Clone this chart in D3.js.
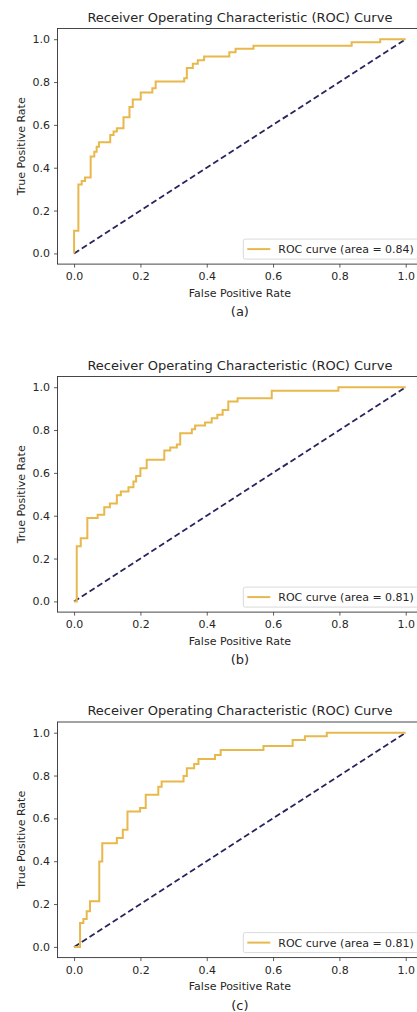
<!DOCTYPE html>
<html>
<head>
<meta charset="utf-8">
<script src="https://cdn.jsdelivr.net/npm/d3@7"></script>
<style>
  html, body { margin: 0; padding: 0; background: #fff; }
  svg { display: block; font-family: "DejaVu Sans", sans-serif; }
</style>
</head>
<body>
<svg id="chart" width="417" height="1012"></svg>
<script>
// ROC curves for three classifiers: corner points of each staircase
// (fpr where the curve steps up, tpr after the step)
const fprA = [0, 0, 0.013, 0.023, 0.033, 0.050, 0.061, 0.068, 0.075, 0.109, 0.119, 0.129, 0.149, 0.167, 0.177, 0.201, 0.236, 0.246, 0.332, 0.340, 0.358, 0.373, 0.392, 0.468, 0.487, 0.541, 0.837, 0.923, 1.0];
const tprA = [0, 0.106, 0.322, 0.338, 0.354, 0.452, 0.475, 0.498, 0.519, 0.553, 0.569, 0.584, 0.636, 0.684, 0.719, 0.751, 0.771, 0.802, 0.818, 0.866, 0.886, 0.902, 0.919, 0.939, 0.955, 0.969, 0.986, 1.0, 1.0];

const fprB = [0, 0.008, 0.020, 0.040, 0.071, 0.091, 0.108, 0.129, 0.141, 0.164, 0.179, 0.187, 0.200, 0.219, 0.272, 0.290, 0.310, 0.320, 0.355, 0.365, 0.395, 0.415, 0.432, 0.448, 0.465, 0.493, 0.596, 0.797, 1.0];
const tprB = [0, 0.257, 0.295, 0.389, 0.404, 0.440, 0.457, 0.495, 0.513, 0.533, 0.560, 0.586, 0.622, 0.661, 0.705, 0.718, 0.733, 0.785, 0.804, 0.821, 0.835, 0.855, 0.871, 0.894, 0.933, 0.949, 0.983, 1.0, 1.0];

const fprC = [0, 0.018, 0.028, 0.038, 0.048, 0.076, 0.085, 0.129, 0.147, 0.161, 0.199, 0.216, 0.254, 0.264, 0.330, 0.340, 0.362, 0.375, 0.425, 0.442, 0.571, 0.659, 0.696, 0.762, 1.0];
const tprC = [0, 0.112, 0.130, 0.166, 0.213, 0.399, 0.484, 0.508, 0.547, 0.632, 0.648, 0.710, 0.748, 0.772, 0.798, 0.834, 0.854, 0.877, 0.896, 0.919, 0.938, 0.966, 0.984, 1.0, 1.0];

const aucValues = [0.84, 0.81, 0.81];
const panelLabels = ["(a)", "(b)", "(c)"];
const tickValues = [0, 0.2, 0.4, 0.6, 0.8, 1.0];
const titleText = "Receiver Operating Characteristic (ROC) Curve";
const xLabelText = "False Positive Rate";
const yLabelText = "True Positive Rate";

const panels = [
  { fpr: fprA, tpr: tprA, auc: aucValues[0], label: panelLabels[0], top: 28.5 },
  { fpr: fprB, tpr: tprB, auc: aucValues[1], label: panelLabels[1], top: 376.5 },
  { fpr: fprC, tpr: tprC, auc: aucValues[2], label: panelLabels[2], top: 722 }
];

const svg = d3.select("#chart");
const left = 57.5, right = 422.3, plotH = 235.6;
const curveColor = "#e8b84c";
const diagColor = "#26265e";
const textColor = "#262626";

panels.forEach(p => {
  const top = p.top, bottom = top + plotH;
  const x = d3.scaleLinear().domain([-0.05, 1.05]).range([left, right]);
  const y = d3.scaleLinear().domain([-0.05, 1.05]).range([bottom, top]);
  const g = svg.append("g");

  // diagonal reference line
  g.append("line")
    .attr("x1", x(0)).attr("y1", y(0))
    .attr("x2", x(1)).attr("y2", y(1))
    .attr("stroke", diagColor)
    .attr("stroke-width", 1.8)
    .attr("stroke-dasharray", "6,3.2");

  // ROC staircase
  const pts = p.fpr.map((f, i) => [f, p.tpr[i]]);
  g.append("path")
    .datum(pts)
    .attr("fill", "none")
    .attr("stroke", curveColor)
    .attr("stroke-width", 2)
    .attr("d", d3.line().x(d => x(d[0])).y(d => y(d[1])).curve(d3.curveStepAfter));

  // axes
  const xAxis = g.append("g").attr("transform", `translate(0,${bottom})`)
    .call(d3.axisBottom(x).tickValues(tickValues).tickFormat(d3.format(".1f")).tickSize(3.5).tickPadding(5));
  const yAxis = g.append("g").attr("transform", `translate(${left},0)`)
    .call(d3.axisLeft(y).tickValues(tickValues).tickFormat(d3.format(".1f")).tickSize(3.5).tickPadding(4));
  [xAxis, yAxis].forEach(a => {
    a.select(".domain").remove();
    a.selectAll("line").attr("stroke", "#333").attr("stroke-width", 0.8);
    a.selectAll("text").attr("fill", textColor).style("font-size", "11px").style("font-family", "DejaVu Sans");
  });

  // frame
  g.append("rect")
    .attr("x", left).attr("y", top)
    .attr("width", right - left).attr("height", plotH)
    .attr("fill", "none").attr("stroke", "#333").attr("stroke-width", 0.9);

  const cx = (left + right) / 2;
  g.append("text").attr("x", cx).attr("y", top - 7)
    .attr("text-anchor", "middle").attr("fill", textColor)
    .style("font-size", "13px").text(titleText);

  g.append("text").attr("x", cx).attr("y", bottom + 32.5)
    .attr("text-anchor", "middle").attr("fill", textColor)
    .style("font-size", "11px").text(xLabelText);

  g.append("text").attr("transform", `translate(25,${(top + bottom) / 2}) rotate(-90)`)
    .attr("text-anchor", "middle").attr("fill", textColor)
    .style("font-size", "11px").text(yLabelText);

  g.append("text").attr("x", cx).attr("y", bottom + 52)
    .attr("text-anchor", "middle").attr("fill", textColor)
    .style("font-size", "13px").text(p.label);

  // legend
  const lg = g.append("g");
  lg.append("rect")
    .attr("x", right - 179).attr("y", bottom - 25)
    .attr("width", 175).attr("height", 20).attr("rx", 2)
    .attr("fill", "#fff").attr("fill-opacity", 0.85)
    .attr("stroke", "#d0d0d0").attr("stroke-width", 0.8);
  lg.append("line")
    .attr("x1", right - 175).attr("x2", right - 152)
    .attr("y1", bottom - 15).attr("y2", bottom - 15)
    .attr("stroke", curveColor).attr("stroke-width", 2);
  lg.append("text")
    .attr("x", right - 144).attr("y", bottom - 11)
    .attr("fill", textColor).style("font-size", "11px")
    .text(`ROC curve (area = ${p.auc.toFixed(2)})`);
});
</script>
</body>
</html>
